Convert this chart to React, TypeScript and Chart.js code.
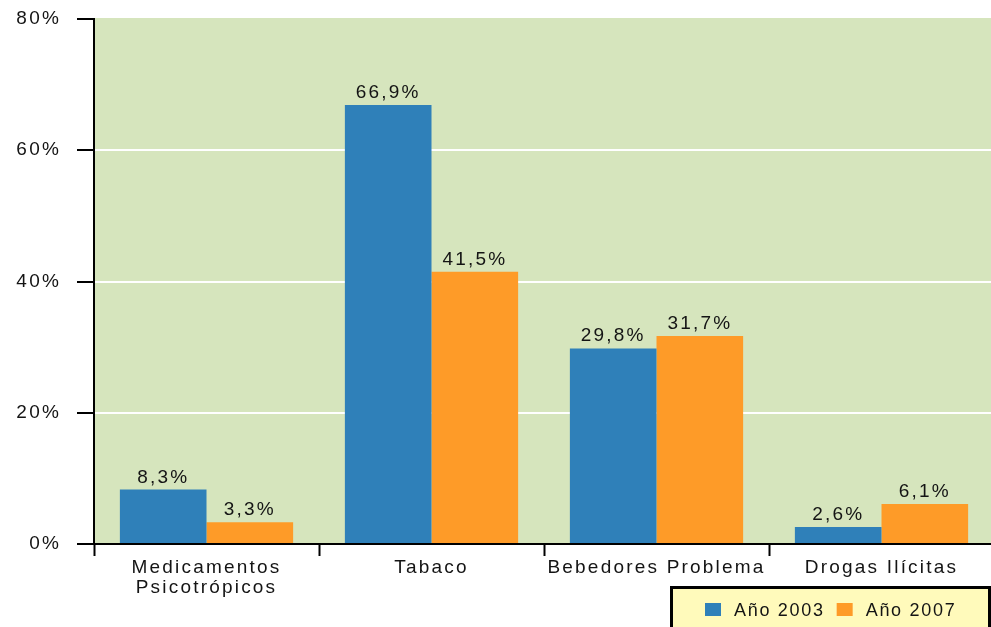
import React, { useEffect, useRef } from "react";
import { Chart, registerables } from "chart.js";

Chart.register(...registerables);

// Categories (first one wraps onto two lines)
const categories: (string | string[])[] = [
  ["Medicamentos", "Psicotrópicos"],
  "Tabaco",
  "Bebedores Problema",
  "Drogas Ilícitas",
];

const seriesLabels = ["Año 2003", "Año 2007"];
const anio2003 = [8.3, 66.9, 29.8, 2.6];
const anio2007 = [3.3, 41.5, 31.7, 6.1];

const yMin = 0;
const yMax = 80;
const yStep = 20;

const BLUE = "#2f80b9";
const ORANGE = "#fe9b28";
const PLOT_BG = "#d6e5bd";
const LEGEND_BG = "#fffabb";
const TEXT = "#141414";
const FONT_FAMILY = "'Liberation Sans', Arial, Helvetica, sans-serif";
const FONT_SIZE = 19;

const fmt = (v: number) => v.toFixed(1).replace(".", ",") + "%";

// Paints the plot background and sets the spaced lettering used by the axes
const backgroundPlugin = {
  id: "plotBackground",
  beforeDraw(chart: any) {
    const { ctx, chartArea } = chart;
    ctx.save();
    ctx.fillStyle = PLOT_BG;
    ctx.fillRect(
      chartArea.left,
      chartArea.top - 1,
      chartArea.right - chartArea.left,
      chartArea.bottom - chartArea.top + 1
    );
    ctx.restore();
    (ctx as any).letterSpacing = "2.2px";
  },
};

// Value labels above each bar
const valueLabelPlugin = {
  id: "valueLabels",
  afterDatasetsDraw(chart: any) {
    const { ctx } = chart;
    ctx.save();
    (ctx as any).letterSpacing = "2.2px";
    ctx.font = `${FONT_SIZE}px ${FONT_FAMILY}`;
    ctx.fillStyle = TEXT;
    ctx.textAlign = "center";
    ctx.textBaseline = "alphabetic";
    chart.data.datasets.forEach((ds: any, di: number) => {
      const meta = chart.getDatasetMeta(di);
      meta.data.forEach((bar: any, i: number) => {
        ctx.fillText(fmt(ds.data[i]), bar.x, bar.y - 7);
      });
    });
    ctx.restore();
  },
};

// Boxed legend in the lower right corner
const boxLegendPlugin = {
  id: "boxLegend",
  afterDraw(chart: any) {
    const { ctx } = chart;
    ctx.save();
    ctx.fillStyle = LEGEND_BG;
    ctx.fillRect(670, 586, 321, 60);
    ctx.strokeStyle = "#000";
    ctx.lineWidth = 3;
    ctx.strokeRect(671.5, 587.5, 318, 60);

    (ctx as any).letterSpacing = "1.7px";
    ctx.font = `18px ${FONT_FAMILY}`;
    ctx.textAlign = "left";
    ctx.textBaseline = "alphabetic";
    let x = 705;
    chart.data.datasets.forEach((ds: any) => {
      ctx.fillStyle = ds.backgroundColor;
      ctx.fillRect(x, 603, 16, 13);
      ctx.fillStyle = TEXT;
      ctx.fillText(ds.label, x + 29, 616);
      x = x + 29 + ctx.measureText(ds.label).width + 12;
    });
    ctx.restore();
  },
};

export default function App() {
  const canvasRef = useRef<HTMLCanvasElement | null>(null);

  useEffect(() => {
    if (!canvasRef.current) return;
    const chart = new Chart(canvasRef.current, {
      type: "bar",
      data: {
        labels: categories,
        datasets: [
          {
            label: seriesLabels[0],
            data: anio2003,
            backgroundColor: BLUE,
            borderWidth: 0,
            categoryPercentage: 0.77,
            barPercentage: 1,
          },
          {
            label: seriesLabels[1],
            data: anio2007,
            backgroundColor: ORANGE,
            borderWidth: 0,
            categoryPercentage: 0.77,
            barPercentage: 1,
          },
        ],
      },
      options: {
        responsive: false,
        animation: false,
        devicePixelRatio: 1,
        layout: { padding: { top: 19, right: 0, bottom: 0, left: 0 } },
        plugins: {
          legend: { display: false },
          tooltip: { enabled: false },
        },
        scales: {
          x: {
            offset: true,
            border: { display: true, color: "#000", width: 2 },
            grid: {
              offset: true,
              drawOnChartArea: false,
              drawTicks: true,
              tickLength: 12,
              tickColor: "#000",
              tickWidth: 2,
            },
            ticks: {
              color: TEXT,
              font: { family: FONT_FAMILY, size: FONT_SIZE, lineHeight: 1.05 },
              padding: 2,
              autoSkip: false,
              maxRotation: 0,
              minRotation: 0,
            },
            afterFit(scale: any) {
              scale.height = 83;
              scale.paddingLeft = 0;
              scale.paddingRight = 0;
            },
          },
          y: {
            min: yMin,
            max: yMax,
            border: { display: true, color: "#000", width: 2 },
            grid: {
              color: (c: any) => {
                const v = c.tick ? c.tick.value : null;
                return v === yMin || v === yMax || v === null ? "rgba(0,0,0,0)" : "#ffffff";
              },
              lineWidth: 2,
              drawTicks: true,
              tickLength: 17,
              tickColor: "#000",
              tickWidth: 2,
            },
            ticks: {
              stepSize: yStep,
              color: TEXT,
              font: { family: FONT_FAMILY, size: FONT_SIZE },
              padding: 16,
              callback: (v: any) => `${v}%`,
            },
            afterFit(scale: any) {
              scale.width = 94;
              scale.paddingTop = 0;
              scale.paddingBottom = 0;
            },
          },
        },
      },
      plugins: [backgroundPlugin, valueLabelPlugin, boxLegendPlugin],
    });
    return () => chart.destroy();
  }, []);

  return (
    <div
      style={{
        position: "absolute",
        left: 0,
        top: 0,
        width: 991,
        height: 627,
        overflow: "hidden",
        background: "#fff",
      }}
    >
      <canvas
        ref={canvasRef}
        width={994}
        height={627}
        style={{ display: "block", width: 994, height: 627 }}
      />
    </div>
  );
}
